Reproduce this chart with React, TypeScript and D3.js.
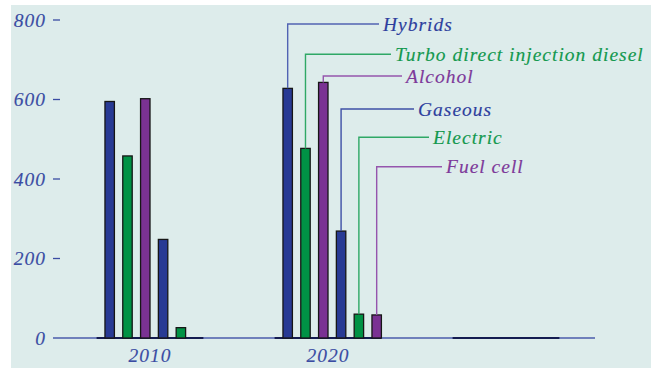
import React from "react";
import * as d3 from "d3";

const years = ["2010", "2020", "2030"];
const seriesNames = ["Hybrids", "Turbo direct injection diesel", "Alcohol", "Gaseous", "Electric", "Fuel cell"];
const values2010 = [595, 458, 602, 248, 26, 0];
const values2020 = [628, 477, 643, 269, 60, 58];
const values2030 = [0, 0, 0, 0, 0, 0];
const yTicks = [0, 200, 400, 600, 800];

const seriesColors = ["#283a94", "#009245", "#7a3293", "#283a94", "#009245", "#7a3293"];
const lineColors = ["#5163b3", "#2fa866", "#9555ad", "#3e50a6", "#2fa866", "#9555ad"];
const textColors = ["#2e3f9e", "#14994f", "#7d3a9a", "#2e3f9e", "#14994f", "#7d3a9a"];
// annotation layout (leader line y, leader line end x)
const labelLineY = [24, 54.3, 76, 109, 137.3, 166.7];
const labelLineEnd = [379, 391, 402, 414, 429, 442];

const W = 658, H = 368;
const FONT = "'Liberation Serif', 'Times New Roman', serif";
const FS = 19.5;
const LS = 1;
const TS = 0.15;

export default function App() {
  const data = [values2010, values2020, values2030];
  const x0 = d3.scaleBand<string>().domain(years).range([61, 595]).paddingInner(0.4).paddingOuter(0.2);
  const x1 = d3.scaleBand<string>().domain(seriesNames).range([0, x0.bandwidth()]);
  const y = d3.scaleLinear().domain([0, 800]).range([338, 20]);
  const sb = x1.bandwidth();
  const barOff = sb * 0.47;
  const barW = sb * 0.53;

  return (
    <div style={{ position: "absolute", left: 0, top: 0 }}>
      <svg width={W} height={H} style={{ display: "block" }}>
        <rect x={11} y={5} width={640} height={H} fill="#ddeceb" />
        {/* axis line */}
        <line x1={53} x2={595} y1={y(0)} y2={y(0)} stroke="#4a5cab" strokeWidth={1.5} />
        {/* y ticks */}
        {yTicks.map((t) => (
          <g key={t}>
            {t !== 0 && <line x1={53} x2={60} y1={y(t)} y2={y(t)} stroke="#3a4ca3" strokeWidth={1.3} />}
            <text x={46} y={y(t) + 6.5} textAnchor="end" fontFamily={FONT} fontStyle="italic" fontSize={FS} letterSpacing={LS} fill="#3a4ca3" stroke="#3a4ca3" strokeWidth={TS}>
              {t}
            </text>
          </g>
        ))}
        {/* groups */}
        {years.map((yr, gi) => {
          const gx = x0(yr)!;
          return (
            <g key={yr}>
              <line x1={gx} x2={gx + x0.bandwidth()} y1={y(0)} y2={y(0)} stroke="#141c50" strokeWidth={2} />
              {seriesNames.map((s, si) => {
                const v = data[gi][si];
                if (v <= 0) return null;
                return (
                  <rect
                    key={s}
                    x={gx + x1(s)! + barOff}
                    y={y(v)}
                    width={barW}
                    height={y(0) - y(v)}
                    fill={seriesColors[si]}
                    stroke="#161616"
                    strokeWidth={1.3}
                  />
                );
              })}
              {gi < 2 && (
                <text x={gx + x0.bandwidth() / 2} y={362} textAnchor="middle" fontFamily={FONT} fontStyle="italic" fontSize={FS} letterSpacing={LS} fill="#3a4ca3" stroke="#3a4ca3" strokeWidth={TS}>
                  {yr}
                </text>
              )}
            </g>
          );
        })}
        {/* annotations on 2020 group */}
        {seriesNames.map((s, si) => {
          const gx = x0("2020")!;
          const cx = gx + x1(s)! + barOff + barW / 2;
          const top = y(values2020[si]);
          const ly = labelLineY[si];
          return (
            <g key={s}>
              <polyline
                points={`${cx},${top} ${cx},${ly} ${labelLineEnd[si]},${ly}`}
                fill="none"
                stroke={lineColors[si]}
                strokeWidth={1.4}
              />
              <text x={labelLineEnd[si] + 4} y={ly + 6.5} fontFamily={FONT} fontStyle="italic" fontSize={FS} letterSpacing={LS} fill={textColors[si]} stroke={textColors[si]} strokeWidth={TS}>
                {s}
              </text>
            </g>
          );
        })}
      </svg>
    </div>
  );
}
